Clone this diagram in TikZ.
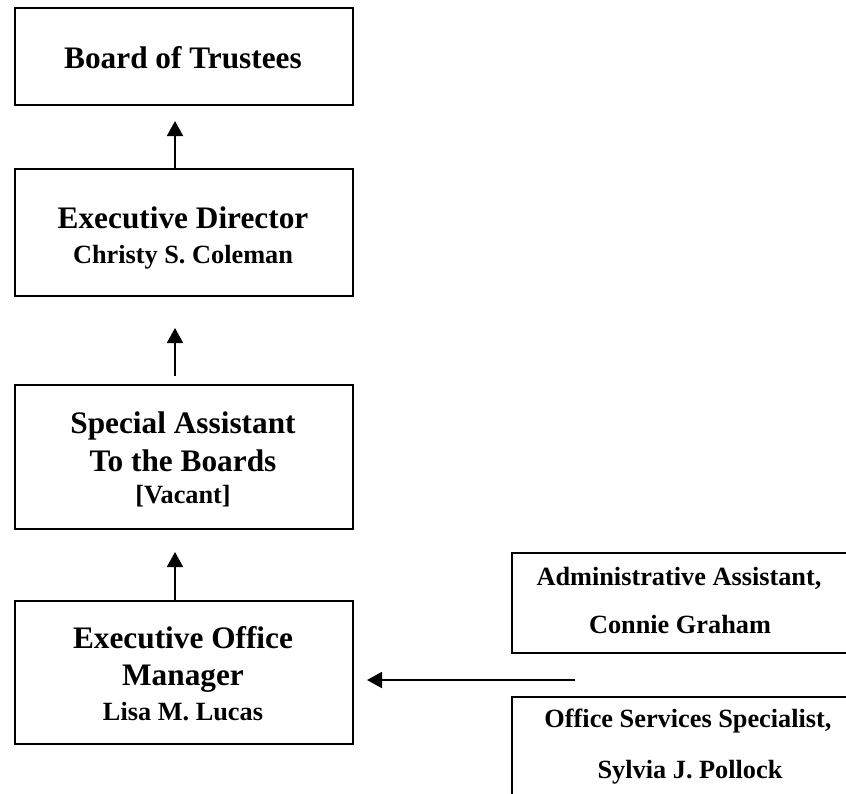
\documentclass[tikz,border=0pt]{standalone}
\usepackage{fontspec}
\setmainfont{Liberation Serif}
\usetikzlibrary{arrows.meta}
\tikzset{
  box/.style={draw, line width=2.4pt, minimum width=338pt, inner sep=0pt, anchor=north west},
  sidebox/.style={draw, line width=2.4pt, inner sep=0pt, anchor=north west, minimum width=360pt},
  big/.style={inner sep=0pt, anchor=base, font=\fontsize{31.3}{35}\selectfont\bfseries},
  small/.style={inner sep=0pt, anchor=base, font=\fontsize{26.3}{30}\selectfont\bfseries},
  link/.style={line width=1.9pt, -{Triangle[length=15pt,width=16pt]}}
}
\begin{document}
\begin{tikzpicture}[x=1pt,y=-1pt]
\useasboundingbox (0,0) rectangle (846,793);
\clip (0,0) rectangle (846,793);
% left column boxes
\node[box, minimum height=97pt] (b1) at (14,7) {};
\node[box, minimum height=127pt] (b2) at (14,168) {};
\node[box, minimum height=144pt] (b3) at (14,384) {};
\node[box, minimum height=143pt] (b4) at (14,600) {};
% right boxes (cut by the page edge)
\node[sidebox, minimum height=100pt] (b5) at (511,552) {};
\node[sidebox, minimum height=120pt] (b6) at (511,696) {};
% texts
\node[big] (t1) at (183,68) {Board of Trustees};
\node[big] (t2a) at (183,228) {Executive Director};
\node[small] (t2b) at (183,263) {Christy S. Coleman};
\node[big] (t3a) at (183,433) {Special Assistant};
\node[big] (t3b) at (183,471) {To the Boards};
\node[small] (t3c) at (183,503) {[Vacant]};
\node[big] (t4a) at (183,648) {Executive Office};
\node[big] (t4b) at (183,685) {Manager};
\node[small] (t4c) at (183,720) {Lisa M. Lucas};
\node[small] (t5a) at (679,585) {Administrative Assistant,};
\node[small] (t5b) at (680,633) {Connie Graham};
\node[small] (t6a) at (688,727) {Office Services Specialist,};
\node[small] (t6b) at (690,778) {Sylvia J. Pollock};
% arrow end points
\coordinate (a1s) at (175,168);
\coordinate (a1e) at (175,121);
\coordinate (a2s) at (175,376);
\coordinate (a2e) at (175,328);
\coordinate (a3s) at (175,600);
\coordinate (a3e) at (175,552);
\coordinate (a4s) at (575,680);
\coordinate (a4e) at (367,680);
\draw[link] (a1s) -- (a1e);
\draw[link] (a2s) -- (a2e);
\draw[link] (a3s) -- (a3e);
\draw[link] (a4s) -- (a4e);
\end{tikzpicture}
\end{document}
